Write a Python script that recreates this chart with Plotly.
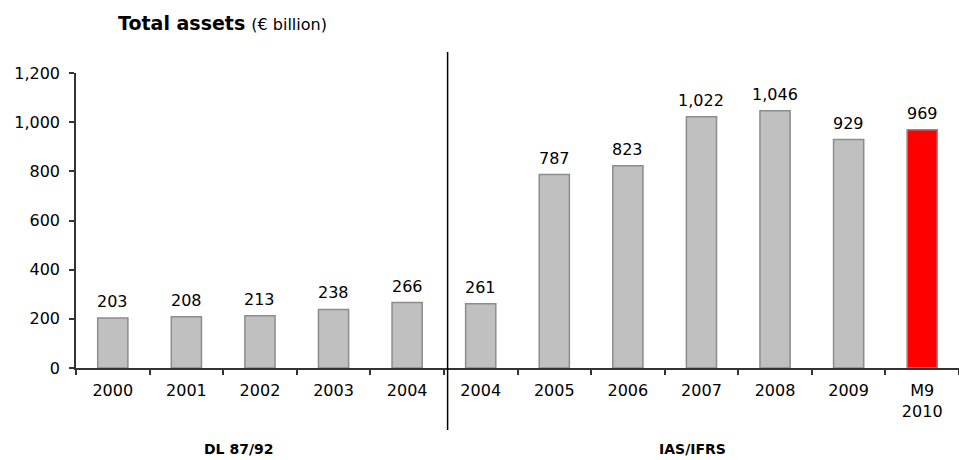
import plotly.graph_objects as go

# Total assets by year, € billion (two accounting regimes)
years = ["2000", "2001", "2002", "2003", "2004", "2004", "2005", "2006", "2007", "2008", "2009", "M9<br>2010"]
assets = [203, 208, 213, 238, 266, 261, 787, 823, 1022, 1046, 929, 969]
bar_colors = ["#C0C0C0"] * 11 + ["#FF0000"]
y_ticks = [0, 200, 400, 600, 800, 1000, 1200]
regime_labels = ["DL 87/92", "IAS/IFRS"]

FONT = "DejaVu Sans, Arial, sans-serif"
positions = list(range(len(years)))

fig = go.Figure(
    go.Bar(
        x=positions,
        y=assets,
        width=0.41,
        marker=dict(color=bar_colors, line=dict(color="#8C8C8C", width=1.5)),
        hoverinfo="x+y",
    )
)

# value labels above each bar
value_notes = [
    dict(
        x=p, y=v, xref="x", yref="y",
        text=f"{v:,}",
        xanchor="center", yanchor="bottom", yshift=5,
        showarrow=False,
        font=dict(family=FONT, size=16, color="#000000"),
    )
    for p, v in zip(positions, assets)
]

fig.update_layout(
    width=959,
    height=460,
    margin=dict(l=76, r=0, t=73, b=92),
    plot_bgcolor="white",
    paper_bgcolor="white",
    showlegend=False,
    font=dict(family=FONT, size=16, color="#000000"),
    xaxis=dict(
        range=[-0.5, 11.5],
        tickvals=positions,
        ticktext=years,
        ticks="",
        showline=True,
        linecolor="#333333",
        linewidth=1.5,
        showgrid=False,
        zeroline=False,
        ticklabelstandoff=7,
        tickfont=dict(family=FONT, size=16),
        minor=dict(
            tickvals=[p - 0.5 for p in positions] + [11.5],
            ticks="outside",
            ticklen=5,
            tickcolor="#333333",
            tickwidth=1.5,
            showgrid=False,
        ),
    ),
    yaxis=dict(
        range=[0, 1200],
        tickvals=y_ticks,
        ticktext=[f"{v:,}" for v in y_ticks],
        ticks="outside",
        ticklen=5,
        tickcolor="#333333",
        tickwidth=1.5,
        showline=True,
        linecolor="#333333",
        linewidth=1.5,
        showgrid=False,
        zeroline=False,
        ticklabelstandoff=6,
        tickfont=dict(family=FONT, size=16),
    ),
    annotations=value_notes + [
        dict(
            text="<b>Total assets</b> <span style='font-size:16px'>(€ billion)</span>",
            xref="paper", yref="paper",
            x=(116 - 76) / 883, y=(368 - 23) / 295,
            xanchor="left", yanchor="middle",
            showarrow=False,
            font=dict(family=FONT, size=19),
        ),
        dict(
            text=f"<b>{regime_labels[0]}</b>",
            xref="paper", yref="paper",
            x=(239 - 76) / 883, y=(368 - 449) / 295,
            xanchor="center", yanchor="middle",
            showarrow=False, borderpad=0,
            font=dict(family=FONT, size=14),
        ),
        dict(
            text=f"<b>{regime_labels[1]}</b>",
            xref="paper", yref="paper",
            x=(692 - 76) / 883, y=(368 - 449) / 295,
            xanchor="center", yanchor="middle",
            showarrow=False, borderpad=0,
            font=dict(family=FONT, size=14),
        ),
    ],
    shapes=[
        dict(
            type="line",
            xref="x", yref="paper",
            x0=4.55, x1=4.55,
            y0=(368 - 430) / 295, y1=(368 - 52) / 295,
            line=dict(color="#000000", width=1.5),
        )
    ],
)

fig.write_html("out.html")
